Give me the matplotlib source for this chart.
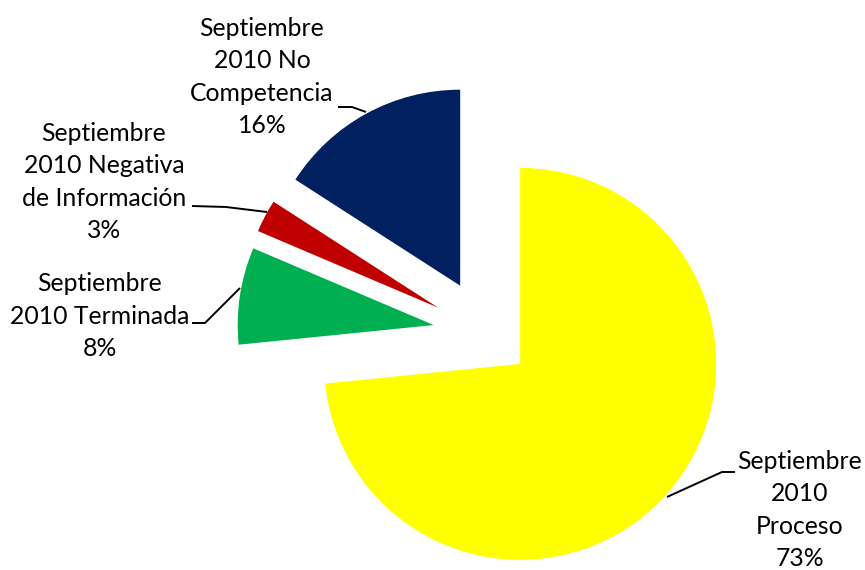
import matplotlib
matplotlib.use("Agg")
import matplotlib.pyplot as plt

# Data
categories = ["Septiembre\n2010\nProceso",
              "Septiembre\n2010 Terminada",
              "Septiembre\n2010 Negativa\nde Información",
              "Septiembre\n2010 No\nCompetencia"]
values = [73.4, 8.0, 2.7, 15.9]
colors = ["#FFFF00", "#00B050", "#C00000", "#002060"]
explode_frac = [0.235, 0.27, 0.275, 0.275]

W, H = 865, 570
fig = plt.figure(figsize=(W / 100, H / 100), dpi=100)
ax = fig.add_axes([0, 0, 1, 1])

cx, cy = 486, H - 333
R = 196
ax.pie(values, colors=colors, explode=[e * R for e in explode_frac], startangle=90,
       counterclock=False, center=(cx, cy), radius=R,
       wedgeprops=dict(linewidth=0), frame=True)
ax.set_xlim(0, W)
ax.set_ylim(0, H)
ax.set_aspect("equal")
ax.axis("off")

total = sum(values)
labels = [f"{c}\n{round(v / total * 100)}%" for c, v in zip(categories, values)]

# label positions (pixel coords, y from top) and leader lines
label_pos = [(800, 510), (100, 316), (104, 182), (262, 77)]
leaders = [[(667, 497), (722, 472), (735, 472)],
           [(240, 288), (205, 323), (192, 323)],
           [(267, 212), (226, 207), (192, 206)],
           [(366, 112), (352, 107), (338, 107)]]

for lab, (x, y), pts in zip(labels, label_pos, leaders):
    ax.text(x, H - y, lab, ha="center", va="center", fontsize=17.8,
            family=["Lato", "DejaVu Sans"], linespacing=1.5, color="black")
    xs = [p[0] for p in pts]
    ys = [H - p[1] for p in pts]
    ax.plot(xs, ys, color="black", lw=1.4, solid_capstyle="butt")

fig.savefig("out.png", dpi=100, facecolor="white")
